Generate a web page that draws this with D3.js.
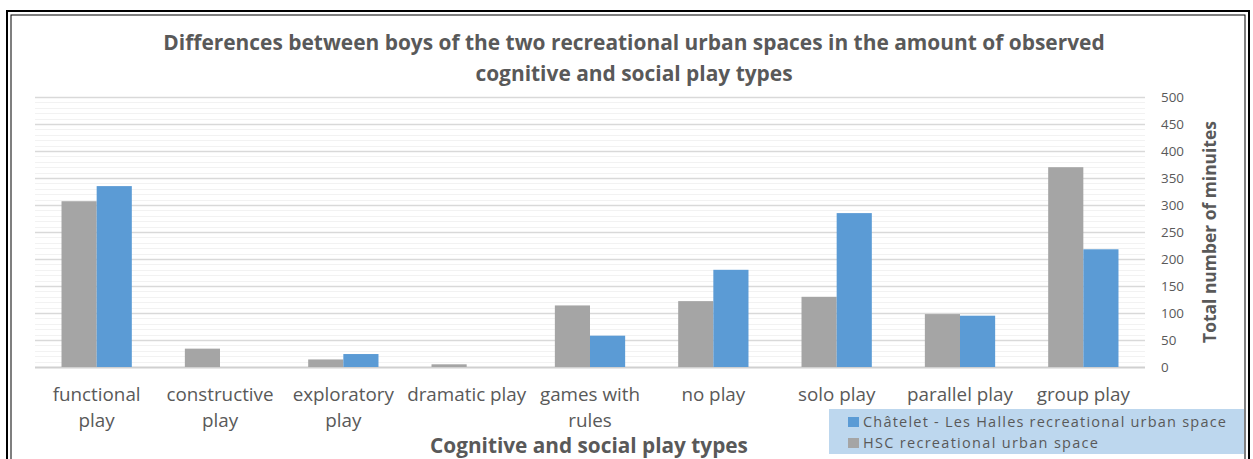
<!DOCTYPE html>
<html><head><meta charset="utf-8">
<script src="https://cdn.jsdelivr.net/npm/d3@7"></script>
<style>body{margin:0;background:#fff}svg{display:block}</style>
</head><body>
<svg id="chart" width="1253" height="459"></svg>
<script>
const categories = ["functional play","constructive play","exploratory play","dramatic play","games with rules","no play","solo play","parallel play","group play"];
const categoryLines = [["functional","play"],["constructive","play"],["exploratory","play"],["dramatic play"],["games with","rules"],["no play"],["solo play"],["parallel play"],["group play"]];
const hscValues = [307, 34, 14, 5, 114, 122, 130, 98, 370];
const chateletValues = [335, 0, 24, 0, 58, 180, 285, 95, 218];
const seriesNames = ["Châtelet - Les Halles recreational urban space","HSC recreational urban space"];
const yTicks = [0,50,100,150,200,250,300,350,400,450,500];
const titleLines = ["Differences between boys of the two recreational urban spaces in the amount of observed","cognitive and social play types"];
const xTitle = "Cognitive and social play types";
const yTitle = "Total number of minuites";

const FONT = "'Open Sans', sans-serif";
const TXT = "#595959";
const GRAY = "#a5a5a5", BLUE = "#5b9bd5";
const svg = d3.select("#chart");

function fitSize(str, target, weight) {
  const t = svg.append("text").attr("font-family", FONT).attr("font-weight", weight||"normal").attr("font-size", 100).text(str);
  const w = t.node().getComputedTextLength();
  t.remove();
  return 100 * target / w;
}

// frame
svg.append("rect").attr("x",7).attr("y",11).attr("width",1242).attr("height",460).attr("fill","none").attr("stroke","#000").attr("stroke-width",2);
svg.append("rect").attr("x",11).attr("y",15).attr("width",1234).attr("height",460).attr("fill","none").attr("stroke","#000").attr("stroke-width",1);

const pLeft = 35, pRight = 1145, pTop = 97, pBottom = 367;
const x = d3.scaleBand().domain(categories).range([pLeft, pRight]).paddingInner(0.43).paddingOuter(0.215);
const y = d3.scaleLinear().domain([0,500]).range([pBottom, pTop]);

const minor = d3.range(0, 501, 10).filter(v => v % 50 !== 0);
svg.append("g").selectAll("line").data(minor).join("line")
  .attr("x1", pLeft).attr("x2", pRight).attr("y1", d => Math.round(y(d))+0.5).attr("y2", d => Math.round(y(d))+0.5)
  .attr("stroke", "#f2f2f2").attr("stroke-width", 1);
const yAxis = d3.axisRight(y).tickValues(yTicks).tickSize(-(pRight-pLeft)).tickPadding(16);
const ga = svg.append("g").attr("transform", `translate(${pRight},0)`).call(yAxis);
ga.select(".domain").remove();
ga.selectAll(".tick line").attr("stroke", "#d9d9d9").attr("stroke-width", 1.3);
ga.selectAll(".tick text").attr("font-family", FONT).attr("font-size", fitSize("500", 23)).attr("fill", TXT).attr("text-anchor","start");
ga.selectAll(".tick").filter(d => d === 0).select("line").attr("stroke", "#d0d0d0").attr("stroke-width", 2);

const groups = svg.append("g").selectAll("g").data(categories).join("g").attr("transform", d => `translate(${x(d)},0)`);
const bw = x.bandwidth()/2;
groups.append("rect").attr("x", 0).attr("width", bw)
  .attr("y", (d,i) => y(hscValues[i])).attr("height", (d,i) => y(0) - y(hscValues[i])).attr("fill", GRAY);
groups.append("rect").attr("x", bw).attr("width", bw)
  .attr("y", (d,i) => y(chateletValues[i])).attr("height", (d,i) => y(0) - y(chateletValues[i])).attr("fill", BLUE);

const catSize = fitSize("functional", 88);
categories.forEach((c,i) => {
  const t = svg.append("text").attr("font-family", FONT).attr("font-size", catSize).attr("fill", TXT).attr("text-anchor","middle");
  categoryLines[i].forEach((ln, j) => {
    t.append("tspan").attr("x", x(c) + x.bandwidth()/2).attr("y", 401 + j*26).text(ln);
  });
});

const titleSize = fitSize(titleLines[0], 942, "bold");
titleLines.forEach((ln, j) => {
  svg.append("text").attr("x", 634).attr("y", 50 + j*31).attr("text-anchor","middle")
    .attr("font-family", FONT).attr("font-weight","bold").attr("font-size", titleSize).attr("fill", TXT).text(ln);
});

svg.append("text").attr("x", 589).attr("y", 453).attr("text-anchor","middle")
  .attr("font-family", FONT).attr("font-weight","bold").attr("font-size", fitSize(xTitle, 318, "bold")).attr("fill", TXT).text(xTitle);

svg.append("text").attr("transform", "translate(1216,232) rotate(-90)").attr("text-anchor","middle")
  .attr("font-family", FONT).attr("font-weight","bold").attr("font-size", fitSize(yTitle, 222, "bold")).attr("fill", TXT).text(yTitle);

svg.append("rect").attr("x", 829).attr("y", 409).attr("width", 415).attr("height", 45).attr("fill", "#bdd7ee");
const legWidths = [363, 235];
[BLUE, GRAY].forEach((col, i) => {
  svg.append("rect").attr("x", 848).attr("y", 417 + i*21).attr("width", 11).attr("height", 10).attr("fill", col);
  svg.append("text").attr("x", 863).attr("y", 427 + i*21).attr("font-family", FONT).attr("font-size", 14.5)
    .attr("textLength", legWidths[i]).attr("lengthAdjust", "spacing").attr("fill", TXT).text(seriesNames[i]);
});
</script>
</body></html>
